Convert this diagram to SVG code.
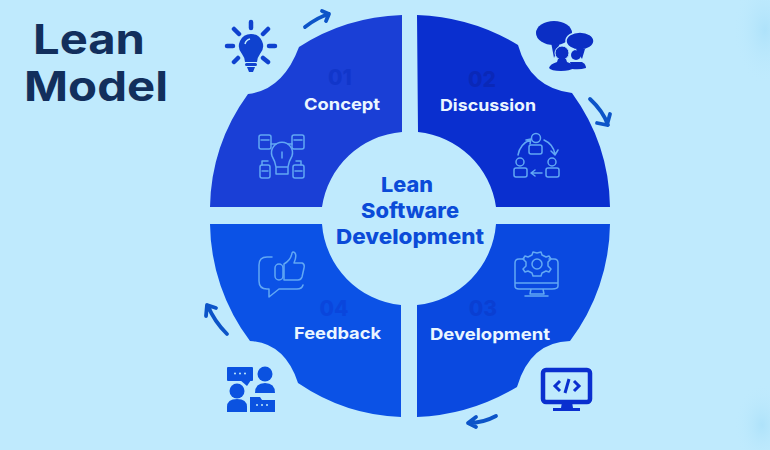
<svg xmlns="http://www.w3.org/2000/svg" width="770" height="450" viewBox="0 0 770 450">
<style>
.lab{font-family:"Inter","Liberation Sans",sans-serif;font-weight:700;font-size:16.5px;fill:#eaf6ff}
.num{font-family:"Inter","Liberation Sans",sans-serif;font-weight:800;font-size:21px;text-anchor:middle}
.ttl{font-family:"Inter","Liberation Sans",sans-serif;font-weight:700;font-size:41px;fill:#122f5c}
.ctr{font-family:"Inter","Liberation Sans",sans-serif;font-weight:800;font-size:20.5px;fill:#0b4bd8}
.ln{fill:none;stroke:#62a8f4;stroke-width:1.500;stroke-linecap:round;stroke-linejoin:round}
.arr{fill:none;stroke:#0c54c8;stroke-width:3.800;stroke-linecap:round;stroke-linejoin:round}
</style>
<defs>
<radialGradient id="glow"><stop offset="0" stop-color="#aee2fa"/><stop offset="1" stop-color="#bfeafd" stop-opacity="0"/></radialGradient>
</defs>
<rect width="770" height="450" fill="#bfeafd"/>
<ellipse cx="765" cy="30" rx="32" ry="55" fill="url(#glow)"/>
<ellipse cx="762" cy="425" rx="28" ry="42" fill="url(#glow)"/>
<g id="title"><text class="ttl" x="33" y="54" textLength="112" lengthAdjust="spacingAndGlyphs">Lean</text><text class="ttl" x="24" y="101" textLength="144" lengthAdjust="spacingAndGlyphs">Model</text></g>
<g id="connectors">
<path class="arr" d="M305 27Q318 17 329 14M322 11L329 14L326 21"/>
<path class="arr" d="M590 99Q603 111 608 125M597 123L607 125L610 114"/>
<path class="arr" d="M496 416Q483 423 469 423M476 417L468 423L476 427"/>
<path class="arr" d="M227 334Q214 321 208 306M206 316L207 305L216 308"/>
</g>
<g id="concept">
<path d="M402 15V132A88 88 0 0 0 322 207H210A198 198 0 0 1 248 94Q283 90 299 47Q345 17 402 15Z" fill="#1a3fd6"/>
<text class="num" x="340" y="85" fill="#1136ca">01</text>
<text class="lab" x="304" y="110" textLength="76" lengthAdjust="spacingAndGlyphs">Concept</text>
<g class="ln"><path d="M276 167V174H288V167M272 156A10.500 10.500 0 1 1 292 156Q289 161 288 167H276Q275 161 272 156Z"/><path d="M282 152V158"/><rect x="259" y="135" width="12" height="14" rx="2"/><rect x="292" y="135" width="12" height="14" rx="2"/><rect x="260" y="165" width="10" height="13" rx="2"/><rect x="293" y="165" width="11" height="13" rx="2"/><path d="M271 144H276M292 144H288M262 165V161H268M301 165V161H296M261 140H269M294 140H302M262 171H268M295 171H302"/></g>
</g>
<g id="discussion">
<path d="M417 15Q472 17 518 45Q530 88 572 93A198 198 0 0 1 610 207H496A88 88 0 0 0 418 132Z" fill="#0a2fcf"/>
<text class="num" x="482" y="87" fill="#0a28b8">02</text>
<text class="lab" x="440" y="111" textLength="96" lengthAdjust="spacingAndGlyphs">Discussion</text>
<g class="ln"><circle cx="536" cy="138" r="4.500"/><rect x="529" y="145" width="13" height="9" rx="2"/><circle cx="520" cy="162" r="4"/><rect x="514" y="168" width="13" height="9" rx="2"/><circle cx="552" cy="162" r="4"/><rect x="546" y="168" width="13" height="9" rx="2"/><path d="M518 155Q520 144 530 140M526 140L531 139L530 144M544 140Q553 144 555 154M551 151L555 155L558 150M542 173H532M535 170L531 173L535 176"/></g>
</g>
<g id="development">
<path d="M610 224A198 198 0 0 1 570 341Q530 342 517 387Q470 415 417 417V305A88 88 0 0 0 496 224Z" fill="#0a49e0"/>
<text class="num" x="483" y="316" fill="#0a3fd2">03</text>
<text class="lab" x="430" y="340" textLength="120" lengthAdjust="spacingAndGlyphs">Development</text>
<g class="ln"><path d="M524 259H519Q515 259 515 263V286Q515 289 519 289H552Q558 289 558 286V263Q558 259 554 259H549M515 283H558M531 289L530 294H544L543 289M525 296H548"/><path d="M537 253L541 252L542 255L546 257L549 256L551 259L548 262V266L551 269L549 272L546 271L542 273L541 276H533L532 273L528 271L525 272L523 269L526 266V262L523 259L525 256L528 257L532 255L533 252Z"/><circle cx="537" cy="264" r="5"/></g>
</g>
<g id="feedback">
<path d="M210 224H322A88 88 0 0 0 401 305V417Q345 415 298 383Q285 343 250 341A198 198 0 0 1 210 224Z" fill="#0b52e6"/>
<text class="num" x="334" y="316" fill="#0a46dc">04</text>
<text class="lab" x="294" y="339" textLength="87" lengthAdjust="spacingAndGlyphs">Feedback</text>
<g class="ln"><path d="M272 257H267Q259 257 259 265V281Q259 289 267 289H269V297L279 289H297Q302 289 303 285"/><rect x="275" y="264" width="8" height="16" rx="4"/><path d="M284 264Q291 260 292 253Q293 251 295 253Q297 256 294 263H302Q305 264 304 268L302 277Q301 280 298 280H284Z"/></g>
</g>
<g id="center"><text class="ctr" x="381" y="192" textLength="52" lengthAdjust="spacingAndGlyphs">Lean</text><text class="ctr" x="361" y="218" textLength="98" lengthAdjust="spacingAndGlyphs">Software</text><text class="ctr" x="336" y="244" textLength="148" lengthAdjust="spacingAndGlyphs">Development</text></g>
<g id="icon-idea" fill="#0f42cf">
<path d="M251 34A12 12 0 0 1 260 54Q257 58 257 62H245Q245 58 242 54A12 12 0 0 1 251 34Z"/><rect x="245" y="63" width="12" height="3" rx="1.500"/><path d="M247 67H255L253 72H249Z"/>
<path d="M245 44Q246 40 250 39" fill="none" stroke="#bfeafd" stroke-width="1.500"/>
<g stroke="#0f42cf" stroke-width="4.500" stroke-linecap="round"><path d="M251 22V28M234 29L239 34M268 29L263 34M227 46H233M269 46H275M238 58L234 62M263 58L268 62"/></g>
</g>
<g id="icon-discussion" fill="#0b2ec4">
<ellipse cx="554" cy="33" rx="18" ry="12"/><path d="M551 42L554 58L560 43Z"/>
<circle cx="576" cy="55" r="5"/><path d="M570 62H582Q586 64 586 68Q580 70 572 69Z"/>
<ellipse cx="580" cy="41" rx="14" ry="9" stroke="#bfeafd" stroke-width="1.500"/><path d="M576 49L582 59L585 49Z"/>
<circle cx="562" cy="53" r="7" stroke="#bfeafd" stroke-width="1"/><path d="M558 59H566L567 62Q574 64 574 68Q570 71 561 71Q551 71 549 68Q550 64 557 62Z"/>
</g>
<g id="icon-code">
<rect x="543" y="370" width="47" height="32" rx="3" fill="#bfeafd" stroke="#0a2fcf" stroke-width="4.500"/>
<path d="M562 402H572L573 408H580V411H553V408H561Z" fill="#0a2fcf"/>
<path d="M560 381L555 386L560 391M574 381L579 386L574 391M569 379L565 393" fill="none" stroke="#0a2fcf" stroke-width="3"/>
</g>
<g id="icon-people" fill="#0b52e0">
<rect x="227" y="367" width="26" height="14" rx="1"/><path d="M240 380H251L247 386Z"/><circle cx="265" cy="374" r="7.500"/><path d="M255 393Q255 383 265 383Q275 383 275 393V393H255Z"/><circle cx="237" cy="391" r="7.500"/><path d="M227 412V407Q227 399 237 399Q247 399 247 407V412Z"/><path d="M250 397H260L262 400H275V412H250Z"/>
<g fill="#bfeafd"><circle cx="235" cy="373.500" r="1"/><circle cx="240" cy="373.500" r="1"/><circle cx="245" cy="373.500" r="1"/><circle cx="257" cy="405" r="1"/><circle cx="262" cy="405" r="1"/><circle cx="267" cy="405" r="1"/></g>
</g>
</svg>
